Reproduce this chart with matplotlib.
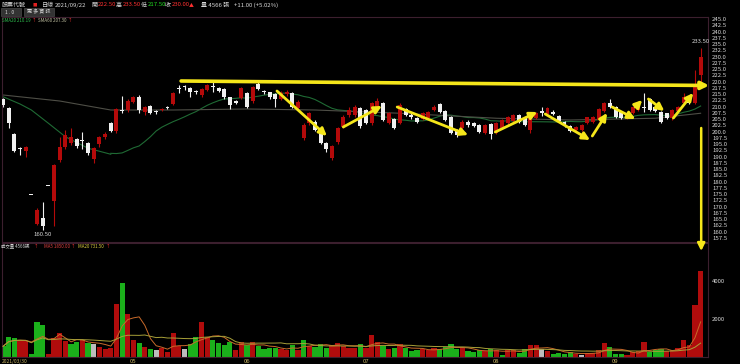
import numpy as np
import pandas as pd
import matplotlib
matplotlib.use('Agg')
import matplotlib.pyplot as plt
from matplotlib.patches import Rectangle

plt.rcParams['font.family'] = ['Noto Sans CJK TC', 'DejaVu Sans']

# daily candles (2021/03/30 .. 2021/09/22)
opens = [212.9, 209.5, 199.0, 193.2, 192.3, 174.5, 163.0, 165.4, 178.4, 172.2,
         188.6, 193.7, 195.3, 197.0, 196.5, 195.3, 188.9, 194.9, 197.7, 203.3,
         200.3, 208.8, 208.6, 212.0, 213.9, 207.9, 210.2, 208.3, 208.7, 209.9,
         210.9, 217.5, 218.1, 217.3, 216.2, 214.6, 216.6, 218.1, 217.3, 216.9,
         213.7, 212.3, 213.3, 215.3, 212.3, 219.0, 216.3, 215.7, 214.9, 213.0,
         214.9, 215.3, 209.3, 197.3, 203.3, 203.9, 201.3, 195.3, 189.3, 195.9,
         201.9, 206.6, 206.6, 209.3, 208.6, 203.3, 209.9, 211.3, 203.3, 204.9,
         203.3, 208.9, 206.6, 205.5, 204.9, 205.3, 208.6, 211.0, 208.3, 205.9,
         200.6, 201.3, 203.9, 203.3, 202.6, 199.5, 202.9, 199.3, 201.3, 203.3,
         204.3, 206.6, 205.3, 200.6, 205.3, 208.3, 207.0, 208.0, 206.2, 203.9,
         202.2, 200.6, 200.6, 203.5, 203.9, 204.6, 208.3, 211.5, 209.9, 207.9,
         205.3, 207.5, 208.6, 209.9, 212.9, 209.9, 207.9, 207.3, 205.3, 208.3,
         211.3, 213.9, 211.5, 222.5]
highs = [213.5, 210.0, 199.5, 194.0, 194.2, 174.5, 169.5, 171.8, 178.4, 187.0,
         197.7, 200.6, 201.3, 197.5, 199.9, 195.8, 194.0, 198.3, 200.0, 203.8,
         209.3, 214.2, 213.0, 214.2, 214.5, 210.3, 210.8, 208.8, 209.3, 210.3,
         215.8, 218.6, 218.5, 217.8, 216.6, 217.5, 219.0, 219.9, 217.8, 217.3,
         214.0, 212.8, 217.8, 215.8, 218.3, 219.9, 216.8, 216.0, 215.3, 216.3,
         216.5, 215.8, 212.5, 203.5, 208.0, 204.5, 201.8, 195.8, 194.8, 202.0,
         206.5, 209.9, 210.5, 210.0, 209.0, 211.8, 213.5, 211.8, 207.8, 205.3,
         211.5, 209.3, 207.5, 206.0, 207.8, 208.3, 210.5, 211.5, 208.8, 206.3,
         201.0, 204.5, 204.5, 203.8, 203.0, 203.0, 203.3, 203.8, 205.0, 206.3,
         207.0, 207.0, 205.8, 206.0, 207.8, 210.0, 209.8, 208.5, 206.6, 204.3,
         202.6, 202.3, 203.0, 206.0, 206.3, 209.3, 211.8, 212.9, 210.3, 208.3,
         207.6, 210.3, 211.8, 215.5, 213.3, 210.3, 208.3, 207.6, 209.0, 210.3,
         215.3, 214.3, 224.5, 233.5]
lows = [210.0, 201.3, 192.0, 190.6, 189.9, 174.5, 162.5, 160.5, 178.4, 162.2,
        188.0, 193.0, 194.6, 193.5, 192.9, 190.8, 187.5, 194.0, 197.0, 199.8,
        199.5, 207.3, 208.0, 211.5, 207.3, 206.6, 207.0, 207.2, 208.3, 208.9,
        210.5, 215.3, 216.8, 213.9, 215.2, 214.0, 216.2, 215.9, 215.8, 213.2,
        208.9, 211.0, 213.0, 209.5, 211.5, 216.5, 215.2, 213.0, 209.9, 212.5,
        214.3, 209.5, 208.8, 196.5, 202.5, 200.2, 195.0, 192.0, 188.6, 195.0,
        201.5, 205.9, 206.0, 201.5, 203.0, 202.5, 209.5, 204.2, 203.0, 201.0,
        203.0, 206.2, 205.0, 203.5, 204.5, 205.0, 208.3, 207.5, 204.2, 199.0,
        198.0, 201.0, 202.0, 202.0, 199.5, 199.2, 196.9, 199.0, 201.0, 203.0,
        204.0, 203.5, 202.3, 199.5, 205.0, 206.2, 206.8, 206.7, 204.0, 201.9,
        200.0, 200.3, 200.3, 203.2, 203.6, 204.3, 208.0, 209.5, 205.4, 205.0,
        205.0, 207.2, 208.3, 208.0, 208.3, 208.0, 203.6, 205.0, 204.6, 208.0,
        211.0, 211.0, 211.0, 217.5]
closes = [210.5, 203.3, 192.3, 192.9, 193.8, 174.5, 168.6, 162.2, 178.4, 186.6,
          193.7, 198.6, 197.7, 194.2, 196.1, 191.3, 193.5, 197.7, 199.0, 200.3,
          208.9, 208.4, 212.3, 213.7, 208.6, 209.9, 207.5, 207.7, 208.9, 209.3,
          215.3, 217.1, 217.7, 215.9, 215.7, 216.9, 218.6, 217.8, 216.3, 213.7,
          210.6, 211.5, 217.3, 209.9, 217.7, 216.9, 215.7, 213.7, 212.9, 215.3,
          215.7, 209.9, 211.9, 202.6, 207.3, 200.6, 195.3, 192.9, 194.2, 201.3,
          205.9, 208.6, 209.9, 202.2, 203.3, 211.3, 212.3, 204.6, 207.3, 201.3,
          210.6, 206.6, 206.0, 203.9, 207.3, 207.9, 209.9, 207.9, 204.6, 199.3,
          198.6, 203.9, 202.6, 202.3, 199.9, 202.6, 199.0, 203.3, 204.6, 205.9,
          206.6, 203.9, 202.6, 205.5, 207.3, 207.5, 209.3, 207.0, 204.3, 202.2,
          200.3, 201.9, 202.6, 205.7, 205.9, 208.9, 211.3, 209.9, 205.7, 205.3,
          207.3, 209.9, 211.5, 209.3, 208.6, 208.3, 203.9, 205.3, 208.6, 210.0,
          213.9, 211.3, 219.0, 230.0]

# volume in lots and its bar colour (r = up, g = down, w = flat)
volume = [563, 1052, 1000, 915, 842, 140, 1825, 1703, 150, 1020,
          1280, 860, 670, 770, 915, 740, 670, 530, 440, 490,
          2770, 3913, 2245, 880, 755, 530, 420, 380, 490, 240,
          1280, 580, 400, 660, 1050, 1850, 1070, 880, 740, 630,
          770, 380, 770, 610, 800, 600, 400, 450, 500, 420,
          350, 650, 380, 900, 600, 550, 700, 500, 650, 750,
          600, 450, 500, 700, 450, 1150, 800, 600, 400, 450,
          700, 500, 300, 350, 400, 380, 450, 400, 550, 700,
          400, 450, 300, 250, 350, 300, 400, 350, 120, 350,
          390, 230, 440, 630, 630, 440, 320, 180, 230, 180,
          260, 140, 100, 230, 230, 370, 750, 530, 180, 180,
          90, 260, 320, 790, 260, 350, 400, 320, 350, 490,
          900, 610, 2720, 4530]
vol_dir = list('gggrrggg' 'rrrrggrgwrrr' 'rgrrgrgwrrrrwggrrgggg' 'rrg'
               'rgggg' 'rrgrg' 'rgggr' 'rrrrg' 'rrrgr' 'grggg' 'rrrgg' 'ggrgg' 'grgr'
               'grrgg' 'rrwrg' 'gggrw' 'rrrrg' 'ggrrr' 'rgggr' 'rrrrr' 'r')

# moving average lines of the price pane
ma20_early_idx = [0, 3, 5, 8, 11, 15, 19]
ma20_early = [213.9, 211.0, 208.6, 203.3, 197.9, 193.3, 190.9]
ma60_idx = [0, 10, 19, 30, 43, 55, 70, 87, 100, 115, 123]
ma60_vals = [214.6, 212.2, 208.6, 208.6, 209.0, 208.6, 207.3, 205.3, 204.6, 205.3, 207.3]

month_idx = [23, 43, 64, 87, 108]
month_labels = ['05', '06', '07', '08', '09']

# hand drawn yellow arrows (start idx, start price, end idx, end price, width)
arrows = [(31.4, 220.2, 124.5, 218.4, 2.6),
          (123.1, 201.4, 123.1, 152.2, 1.8),
          (48.3, 216.2, 57.1, 198.2, 2.0),
          (60.0, 201.8, 66.8, 210.2, 2.0),
          (69.5, 209.8, 82.0, 198.6, 2.0),
          (86.8, 199.8, 94.2, 207.8, 2.0),
          (95.6, 207.0, 103.5, 196.6, 2.0),
          (103.9, 198.2, 106.5, 207.4, 2.0),
          (107.4, 209.8, 111.5, 205.0, 2.0),
          (111.5, 209.8, 112.7, 212.6, 2.0),
          (113.8, 213.0, 116.6, 208.2, 2.0),
          (118.2, 205.4, 121.7, 215.4, 2.0)]

W, H = 740, 364
def fx(px):
    return px / W
def fy(py):
    return 1 - py / H

RED = '#b40a0a'
WHITE = '#f0f0f0'
GREEN = '#1bb01b'
SPINE = '#3c1f2e'
TXT = '#d8d8d8'
YEL = '#f5e61a'
FS = 4.3
SM = 3.2

fig = plt.figure(figsize=(7.4, 3.64), dpi=100, facecolor='black')
ax = fig.add_axes([fx(2), fy(242), fx(708) - fx(2), fy(17) - fy(242)], facecolor='black')
axv = fig.add_axes([fx(2), fy(357), fx(708) - fx(2), fy(243) - fy(357)], facecolor='black')
ax.set_zorder(3)

idx = np.arange(len(closes))
o = np.array(opens)
h = np.array(highs)
l = np.array(lows)
c = np.array(closes)
col = [RED if cc > oo else WHITE for oo, cc in zip(o, c)]

ax.vlines(idx, l, h, colors=col, lw=0.8, zorder=2)
body = np.maximum(np.abs(c - o), 0.35)
ax.bar(idx, body, bottom=np.minimum(o, c), width=0.7, color=col, zorder=3)

s = pd.Series(c)
ma20 = s.rolling(20).mean()
ax.plot(ma20_early_idx, ma20_early, color='#1f6a34', lw=0.8, zorder=1)
ax.plot(idx[19:], ma20[19:], color='#1f6a34', lw=0.8, zorder=1)
ax.plot(ma60_idx, ma60_vals, color='#4e4e46', lw=0.8, zorder=1)

ax.set_xlim(-0.18, 124.3)
ax.set_ylim(155.8, 245.8)
ax.yaxis.tick_right()
yt = np.arange(157.5, 245.1, 2.5)
ax.set_yticks(yt)
ax.set_yticklabels([f'{v:.1f}' for v in yt])
ax.tick_params(axis='y', length=0, pad=3, labelsize=FS, labelcolor=TXT)
ax.set_xticks([])
for sp in ax.spines.values():
    sp.set_color(SPINE)
    sp.set_linewidth(0.8)

# high / low labels
ax.annotate(f'{max(highs):.2f}', (idx[-1], max(highs)), xytext=(0, 2.5), textcoords='offset points',
            ha='center', va='bottom', fontsize=FS, color=TXT)
imin = int(np.argmin(lows))
ax.annotate(f'{min(lows):.2f}', (idx[imin], min(lows)), xytext=(0, -1.5), textcoords='offset points',
            ha='center', va='top', fontsize=FS, color=TXT)

for x0, y0, x1, y1, lw in arrows:
    ax.annotate('', xy=(x1, y1), xytext=(x0, y0), annotation_clip=False,
                arrowprops=dict(arrowstyle='-|>', color=YEL, lw=lw, mutation_scale=11,
                                shrinkA=0, shrinkB=0))

# volume pane
vcol = {'r': '#b00c0c', 'g': GREEN, 'w': '#bdbdbd'}
axv.bar(idx, volume, width=0.92, color=[vcol[d] for d in vol_dir], zorder=2)
vs = pd.Series(volume)
axv.plot(idx, vs.rolling(5, min_periods=1).mean(), color='#c86a2a', lw=0.7, zorder=3)
axv.plot(idx, vs.rolling(20, min_periods=1).mean(), color='#a8a038', lw=0.7, zorder=3)
axv.set_xlim(-0.18, 124.3)
axv.set_ylim(0, 6000)
axv.yaxis.tick_right()
axv.set_yticks([2000, 4000])
axv.set_yticklabels(['2000', '4000'])
axv.tick_params(axis='y', length=0, pad=3, labelsize=FS, labelcolor=TXT)
axv.set_xticks(month_idx)
axv.set_xticklabels(month_labels)
axv.tick_params(axis='x', length=0, pad=1.5, labelsize=FS, labelcolor='#c8b464')
axv.text(0, -0.02, '2021/03/30', transform=axv.transAxes, ha='left', va='top',
         fontsize=FS - 0.8, color='#c8b464')
for sp in axv.spines.values():
    sp.set_color(SPINE)
    sp.set_linewidth(0.8)

# header rows
def t(px, py, s, color=TXT, size=FS):
    fig.text(fx(px), fy(py), s, color=color, fontsize=size, ha='left', va='center')

t(2, 5, '股票代號')
t(33, 5, '■', '#e02020', 3.2)
t(42, 5, '日線')
t(55, 5, '2021/09/22')
t(91, 5, '開')
t(98, 5, f'{opens[-1]:.2f}', '#ff3030')
t(116, 5, '高')
t(123, 5, f'{highs[-1]:.2f}', '#ff3030')
t(141, 5, '低')
t(148, 5, f'{lows[-1]:.2f}', '#22dd22')
t(165, 5, '收')
t(172, 5, f'{closes[-1]:.2f}', '#ff3030')
t(189, 5, '▲', '#ff3030', 3.5)
t(201, 5, f'量 {volume[-1] + 36} 張')
chg = closes[-1] - closes[-2]
t(234, 5, f'+{chg:.2f} (+{chg / closes[-2] * 100:.2f}%)')

fig.patches.append(Rectangle((fx(1), fy(16)), fx(20), fy(8) - fy(16), transform=fig.transFigure,
                             facecolor='#333333', edgecolor='#555555', lw=0.4))
fig.patches.append(Rectangle((fx(24), fy(16)), fx(30), fy(8) - fy(16), transform=fig.transFigure,
                             facecolor='#333333', edgecolor='#555555', lw=0.4))
t(5, 12, '1 . 0', TXT, 3.6)
t(27, 12, '更 多 資 訊', TXT, 3.6)

t(2, 21, f'SMA20 {ma20.iloc[-1]:.2f}', '#2fbf4f', SM)
t(32, 21, '↑', '#ff3030', SM)
t(38, 21, f'SMA60 {ma60_vals[-1]:.2f}', '#c0c0a0', SM)
t(68, 21, '↑', '#ff3030', SM)

t(1, 246, f'成交量 {volume[-1] + 36}張', TXT, SM)
t(34, 246, '↑', '#ff3030', SM)
t(44, 246, f'MA5 {vs.rolling(5).mean().iloc[-1]:.2f}', '#e04040', SM)
t(71, 246, '↑', '#ff3030', SM)
t(78, 246, f'MA20 {vs.rolling(20).mean().iloc[-1]:.2f}', '#e0d040', SM)
t(106, 246, '↑', '#ff3030', SM)

fig.savefig('out.png', dpi=100, facecolor='black')
